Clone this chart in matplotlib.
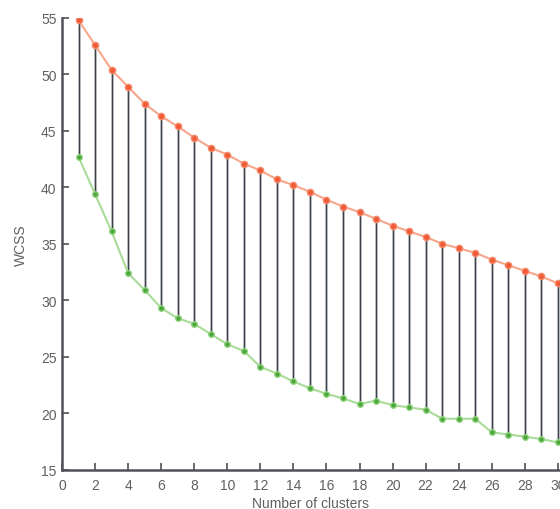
import matplotlib.pyplot as plt
import numpy as np

plt.rcParams['font.family'] = ['Liberation Sans', 'DejaVu Sans']

# 聚类数
clusters = np.arange(1, 31)
# 上方曲线（红）
wcss_upper = [54.8, 52.6, 50.4, 48.9, 47.4, 46.3, 45.4, 44.4, 43.5, 42.9,
              42.1, 41.5, 40.7, 40.2, 39.6, 38.9, 38.3, 37.8, 37.2, 36.6,
              36.1, 35.6, 35.0, 34.6, 34.2, 33.6, 33.1, 32.6, 32.1, 31.5]
# 下方曲线（绿）
wcss_lower = [42.7, 39.4, 36.1, 32.4, 30.9, 29.3, 28.4, 27.9, 27.0, 26.1,
              25.5, 24.1, 23.5, 22.8, 22.2, 21.7, 21.3, 20.8, 21.1, 20.7,
              20.5, 20.3, 19.5, 19.5, 19.5, 18.3, 18.1, 17.9, 17.7, 17.4]
x_ticks = list(range(0, 31, 2))
y_ticks = list(range(15, 56, 5))

fig = plt.figure(figsize=(5.6, 5.1), dpi=100)
ax = fig.add_axes([62 / 560, 39.5 / 510, 498 / 560, 451.5 / 510])

# 竖线连接上下两条曲线
ax.vlines(clusters, wcss_lower, wcss_upper, color='#c8ccd0', lw=2.2, zorder=1)
ax.vlines(clusters, wcss_lower, wcss_upper, color='#3c4248', lw=0.9, zorder=2)

ax.plot(clusters, wcss_upper, color='#f7a68c', lw=1.5, zorder=3)
ax.plot(clusters, wcss_upper, 'o', color='#f05a36', ms=4.5, mec='#f58a6a', zorder=4)
ax.plot(clusters, wcss_lower, color='#a8dc98', lw=1.5, zorder=3)
ax.plot(clusters, wcss_lower, 'o', color='#4aa83a', ms=4, mec='#8fd07c', zorder=4)

ax.set_xlim(0, 30.13)
ax.set_ylim(15, 55)
ax.set_xticks(x_ticks)
ax.set_yticks(y_ticks)
ax.tick_params(direction='in', length=5, width=1.2, colors='#505050',
               labelsize=10, labelcolor='#606060')
ax.tick_params(axis='x', pad=6)
ax.tick_params(axis='y', pad=4)

for s in ['top', 'right']:
    ax.spines[s].set_visible(False)
for s in ['left', 'bottom']:
    ax.spines[s].set_color('#505058')
    ax.spines[s].set_linewidth(1.8)

ax.set_xlabel('Number of clusters', fontsize=10, color='#606060', labelpad=3)
ax.set_ylabel('WCSS', fontsize=10, color='#606060', labelpad=9)

plt.savefig('out.png', dpi=100)
plt.close()
